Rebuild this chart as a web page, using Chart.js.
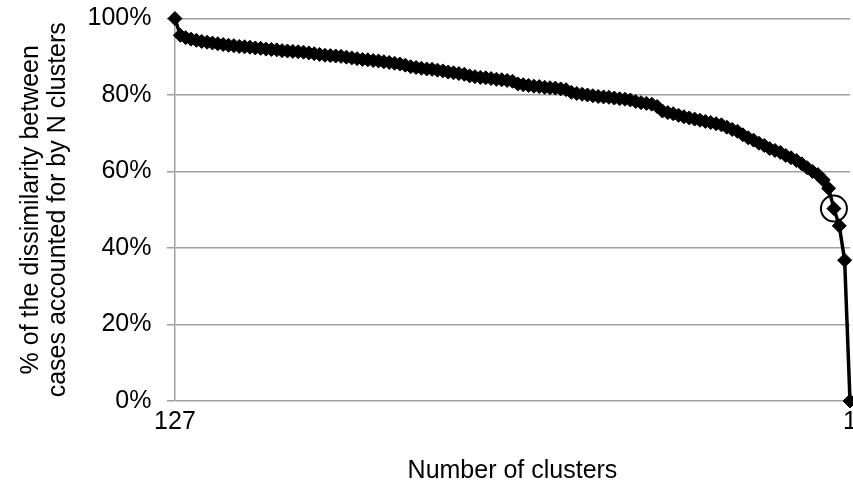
<!DOCTYPE html>
<html lang="en">
<head>
    <meta charset="UTF-8">
    <title>Clusters</title>
    <script src="https://cdn.jsdelivr.net/npm/chart.js"></script>
    <style>
        html, body { margin: 0; padding: 0; background: #fff; overflow: hidden; }
        #wrap { width: 857px; height: 488px; }
    </style>
</head>
<body>
<div id="wrap"><canvas id="chartCanvas"></canvas></div>

<script>
    // % of dissimilarity accounted for, from 127 clusters down to 1
    const dissimilarity = [
        100, 95.6, 95.0, 94.6, 94.3, 94.0, 93.8, 93.6, 93.4, 93.2,
        93.0, 92.9, 92.7, 92.6, 92.5, 92.3, 92.2, 92.0, 91.9, 91.8,
        91.6, 91.5, 91.4, 91.3, 91.2, 91.0, 90.8, 90.6, 90.4, 90.3,
        90.2, 90.1, 89.9, 89.7, 89.5, 89.3, 89.2, 89.0, 88.9, 88.7,
        88.5, 88.3, 88.1, 87.8, 87.4, 87.2, 87.0, 86.8, 86.7, 86.5,
        86.3, 86.0, 85.8, 85.6, 85.4, 85.0, 84.8, 84.6, 84.5, 84.3,
        84.1, 84.0, 83.8, 83.6, 82.9, 82.7, 82.5, 82.3, 82.2, 82.0,
        81.9, 81.8, 81.6, 81.4, 80.7, 80.4, 80.2, 80.0, 79.8, 79.6,
        79.5, 79.4, 79.2, 79.0, 78.9, 78.7, 78.3, 78.0, 77.8, 77.6,
        77.0, 75.8, 75.4, 75.1, 74.7, 74.3, 74.0, 73.7, 73.4, 73.1,
        72.8, 72.5, 72.2, 71.6, 71.0, 70.5, 69.6, 68.8, 68.2, 67.4,
        66.8, 66.0, 65.5, 65.0, 64.2, 63.6, 62.9, 62.0, 61.0, 60.0,
        59.2, 57.8, 55.6, 50.3, 45.8, 36.8, 0
    ];

    // category labels: number of clusters, 127 down to 1
    const clusters = [];
    for (let n = 127; n >= 1; n--) clusters.push(String(n));

    const shownTicks = ["127", "1"];
    const highlightCluster = "4";
    const yTicks = [0, 20, 40, 60, 80, 100];

    const highlight = clusters.map((c, i) => c === highlightCluster ? dissimilarity[i] : null);

    const font = "'Liberation Sans', Arial, sans-serif";
    const gridGray = "#a0a0a0";

    const ctx = document.getElementById("chartCanvas").getContext("2d");
    new Chart(ctx, {
        type: "line",
        data: {
            labels: clusters,
            datasets: [{
                data: highlight,
                showLine: false,
                pointStyle: "circle",
                pointRadius: 13,
                pointBorderWidth: 2,
                pointBackgroundColor: "rgba(0,0,0,0)",
                pointBorderColor: "#000",
                clip: false,
                order: 0
            }, {
                data: dissimilarity,
                borderColor: "#000",
                borderWidth: 3.5,
                pointStyle: "rectRot",
                pointRadius: 7,
                pointBorderWidth: 1,
                pointBackgroundColor: "#000",
                pointBorderColor: "#000",
                tension: 0,
                clip: false,
                order: 1
            }]
        },
        options: {
            responsive: true,
            maintainAspectRatio: false,
            animation: false,
            events: [],
            layout: { autoPadding: false, padding: { left: 17, top: 0, right: 0, bottom: 2 } },
            plugins: { legend: { display: false }, tooltip: { enabled: false } },
            scales: {
                x: {
                    offset: false,
                    grid: { display: false, drawTicks: false },
                    border: { display: false },
                    afterFit: s => { s.paddingRight = 7; },
                    ticks: {
                        autoSkip: false,
                        maxRotation: 0,
                        minRotation: 0,
                        padding: 6,
                        color: "#000",
                        font: { family: font, size: 25 },
                        callback: function (v) {
                            const lab = this.getLabelForValue(v);
                            return shownTicks.includes(lab) ? lab : "";
                        }
                    },
                    title: {
                        display: true,
                        text: "Number of clusters",
                        color: "#000",
                        font: { family: font, size: 25 },
                        padding: { top: 13, bottom: 0 }
                    }
                },
                y: {
                    min: 0,
                    max: 100,
                    afterBuildTicks: axis => { axis.ticks = yTicks.map(v => ({ value: v })); },
                    afterFit: s => { s.paddingTop = 18.5; s.paddingBottom = 0; },
                    grid: { color: gridGray, lineWidth: 1.5, tickLength: 8 },
                    border: { color: gridGray, width: 1.5 },
                    ticks: {
                        padding: 15.5,
                        color: "#000",
                        font: { family: font, size: 25 },
                        callback: v => v + "%"
                    },
                    title: {
                        display: true,
                        text: ["% of the dissimilarity between", "cases accounted for by N clusters"],
                        color: "#000",
                        font: { family: font, size: 25, lineHeight: 1.1 },
                        padding: { top: 0, bottom: 0 }
                    }
                }
            }
        }
    });
</script>
</body>
</html>
